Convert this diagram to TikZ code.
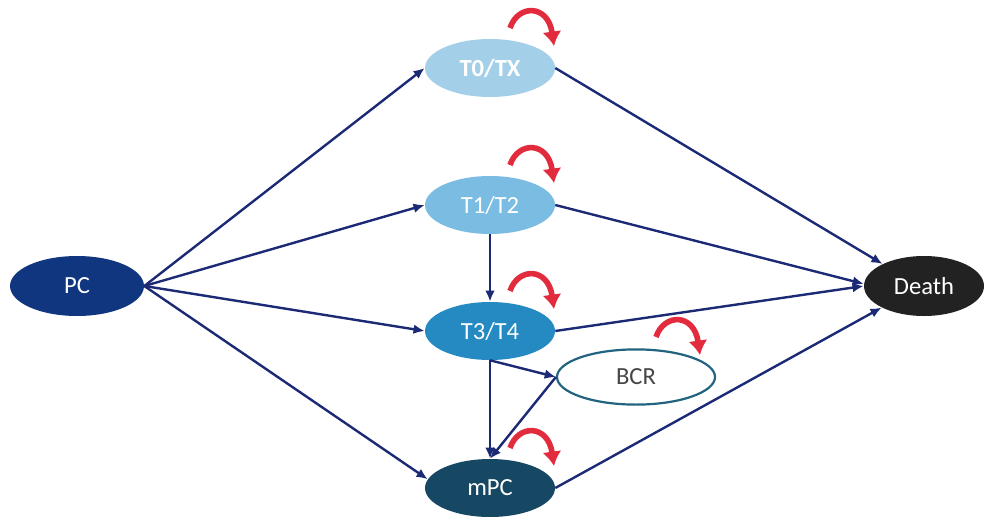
\documentclass[tikz,border=0pt]{standalone}
\usepackage{fontspec}
\setmainfont{Carlito}
\usetikzlibrary{arrows.meta,shapes.geometric}
\definecolor{edgeblue}{RGB}{28,42,118}
\definecolor{pcnavy}{RGB}{16,54,128}
\definecolor{tzero}{RGB}{164,207,233}
\definecolor{tone}{RGB}{122,188,226}
\definecolor{tthree}{RGB}{38,138,194}
\definecolor{mpcteal}{RGB}{22,72,100}
\definecolor{deathgray}{RGB}{34,34,34}
\definecolor{bcrteal}{RGB}{34,100,128}
\definecolor{textgray}{RGB}{70,70,70}
\definecolor{loopred}{RGB}{226,44,62}
\tikzset{
  state/.style={ellipse,inner sep=0pt,minimum width=32.5mm,minimum height=14.5mm,
    text=white,font=\fontsize{17.5}{20}\selectfont},
  move/.style={line width=0.6mm,edgeblue,-{Latex[length=2.8mm,width=2.4mm]}},
  stay/.style={line width=1.4mm,loopred,-{Latex[length=3.6mm,width=4.8mm]}}
}
\begin{document}
\begin{tikzpicture}[x=0.25mm,y=-0.25mm]
  \useasboundingbox (0,0) rectangle (984,517);
  \node[state,fill=pcnavy,minimum width=33.5mm,minimum height=15mm] (pc) at (77,286) {PC};
  \node[state,fill=tzero,font=\fontsize{17.5}{20}\selectfont\bfseries] (t0) at (490,68) {T0/TX};
  \node[state,fill=tone] (t1) at (490,205) {T1/T2};
  \node[state,fill=tthree] (t3) at (490,331) {T3/T4};
  \node[state,fill=white,draw=bcrteal,line width=0.55mm,text=textgray,
    minimum width=39.5mm,minimum height=13.8mm] (bcr) at (636,377) {BCR};
  \node[state,fill=mpcteal] (mpc) at (490,488) {mPC};
  \node[state,fill=deathgray,minimum width=30mm,minimum height=15mm] (death) at (924,286) {Death};
  % staying in the same state
  \foreach \n in {t0,t1,t3,bcr,mpc}
    \draw[stay] ([shift={(20,-40)}]\n.center) .. controls ([shift={(28,-64)}]\n.center)
      and ([shift={(58,-64)}]\n.center) .. ([shift={(64,-22)}]\n.center);
  \draw[move] (pc.east) -- (t0.west);
  \draw[move] (pc.east) -- (t1.west);
  \draw[move] (pc.east) -- (t3.west);
  \draw[move] (pc.east) -- (mpc.172);
  \draw[move] (t0.east) -- (death.152);
  \draw[move] (t1.east) -- (death.178);
  \draw[move] (t3.east) -- (death.west);
  \draw[move] (mpc.east) -- (death.207);
  \draw[move] (t1.south) -- (t3.north);
  \draw[move] (t3.south) -- (mpc.north);
  \draw[move] (t3.south) -- (bcr.west);
  \draw[move] (bcr.west) -- (mpc.north);
\end{tikzpicture}
\end{document}
